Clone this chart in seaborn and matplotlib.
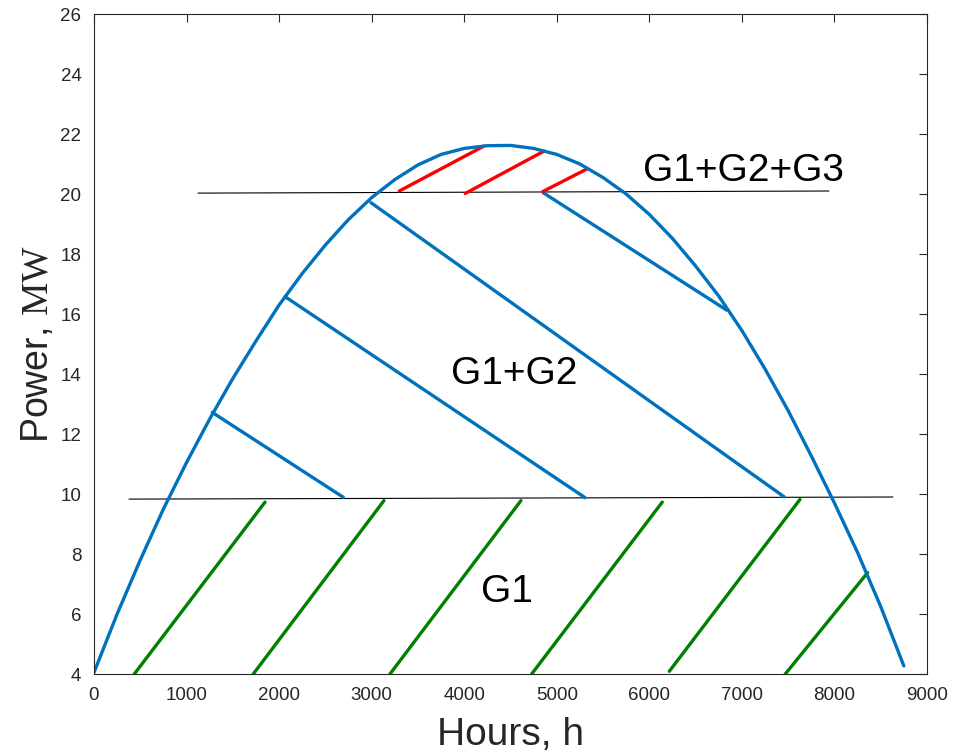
import matplotlib
matplotlib.use("Agg")
import pandas as pd
import matplotlib.pyplot as plt
import seaborn as sns

# load curve (hours, MW) every 250 h
curve_x = [0, 250, 500, 750, 1000, 1250, 1500, 1750, 2000, 2250, 2500, 2750, 3000,
           3250, 3500, 3750, 4000, 4250, 4500, 4750, 5000, 5250, 5500, 5750, 6000,
           6250, 6500, 6750, 7000, 7250, 7500, 7750, 8000, 8250, 8500, 8750]
curve_y = [4.05, 6.0, 7.8, 9.5, 11.05, 12.5, 13.85, 15.1, 16.3, 17.35, 18.3, 19.15,
           19.88, 20.48, 20.97, 21.32, 21.52, 21.61, 21.62, 21.52, 21.32, 21.0, 20.55,
           20.0, 19.32, 18.52, 17.6, 16.6, 15.45, 14.17, 12.78, 11.27, 9.7, 8.05,
           6.25, 4.27]

# thin level lines
low_x = [378, 8632]
low_y = [9.83, 9.9]
high_x = [1124, 7941]
high_y = [20.03, 20.1]

# hatching segments: start / end points
g1_x0 = [436, 1721, 3198, 4729, 6216, 7469]
g1_y0 = [4.0, 4.0, 4.0, 4.0, 4.09, 4.0]
g1_x1 = [1848, 3133, 4613, 6140, 7628, 8359]
g1_y1 = [9.73, 9.78, 9.78, 9.73, 9.82, 7.38]

g2_x0 = [1278, 2064, 2993, 4855]
g2_y0 = [12.72, 16.58, 19.71, 20.04]
g2_x1 = [2694, 5305, 7455, 6836]
g2_y1 = [9.89, 9.88, 9.91, 16.13]

g3_x0 = [3299, 4012, 4848]
g3_y0 = [20.1, 20.02, 20.08]
g3_x1 = [4214, 4862, 5323]
g3_y1 = [21.6, 21.43, 20.83]

labels = ["G1+G2+G3", "G1+G2", "G1"]
label_x = [7021, 4538, 4467]
label_y = [20.42, 13.67, 6.41]

x_ticks = list(range(0, 9001, 1000))
y_ticks = list(range(4, 27, 2))

BLUE = "#0072BD"
GREEN = "#008000"
RED = "#FF0000"
AXC = "#262626"

sns.set_style("white")
plt.rcParams['font.family'] = ['Liberation Sans', 'DejaVu Sans']
plt.rcParams['mathtext.fontset'] = 'custom'
plt.rcParams['mathtext.rm'] = 'Liberation Serif'

fig = plt.figure(figsize=(9.6, 7.54), dpi=100)
ax = fig.add_axes([0.0979, 0.1061, 0.8677, 0.8753])


def seg_frame(x0, y0, x1, y1):
    rows = []
    for i in range(len(x0)):
        rows.append({'seg': i, 'x': x0[i], 'y': y0[i]})
        rows.append({'seg': i, 'x': x1[i], 'y': y1[i]})
    return pd.DataFrame(rows)


sns.lineplot(x=low_x, y=low_y, color="black", lw=0.8, ax=ax, sort=False, estimator=None)
sns.lineplot(x=high_x, y=high_y, color="black", lw=0.8, ax=ax, sort=False, estimator=None)

for (x0, y0, x1, y1), col in [((g1_x0, g1_y0, g1_x1, g1_y1), GREEN),
                              ((g2_x0, g2_y0, g2_x1, g2_y1), BLUE),
                              ((g3_x0, g3_y0, g3_x1, g3_y1), RED)]:
    df = seg_frame(x0, y0, x1, y1)
    sns.lineplot(data=df, x='x', y='y', units='seg', estimator=None, sort=False,
                 color=col, lw=2.4, ax=ax, legend=False)

sns.lineplot(x=curve_x, y=curve_y, color=BLUE, lw=2.4, ax=ax, sort=False, estimator=None)

for t, tx, ty in zip(labels, label_x, label_y):
    ax.text(tx, ty, t, ha='center', va='baseline', fontsize=28, color='black')

ax.set_xlim(0, 9000)
ax.set_ylim(4, 26)
ax.set_xticks(x_ticks)
ax.set_yticks(y_ticks)
ax.tick_params(direction='in', length=6, width=0.8, top=True, right=True,
               labelsize=13.5, colors=AXC, pad=9)
for s in ax.spines.values():
    s.set_visible(True)
    s.set_color(AXC)
    s.set_linewidth(0.8)

ax.set_xlabel("Hours, h", fontsize=28, color=AXC, labelpad=10)
ax.set_ylabel(r"Power, $\mathrm{MW}$", fontsize=27, color=AXC, labelpad=3)

fig.savefig("out.png", dpi=100)
